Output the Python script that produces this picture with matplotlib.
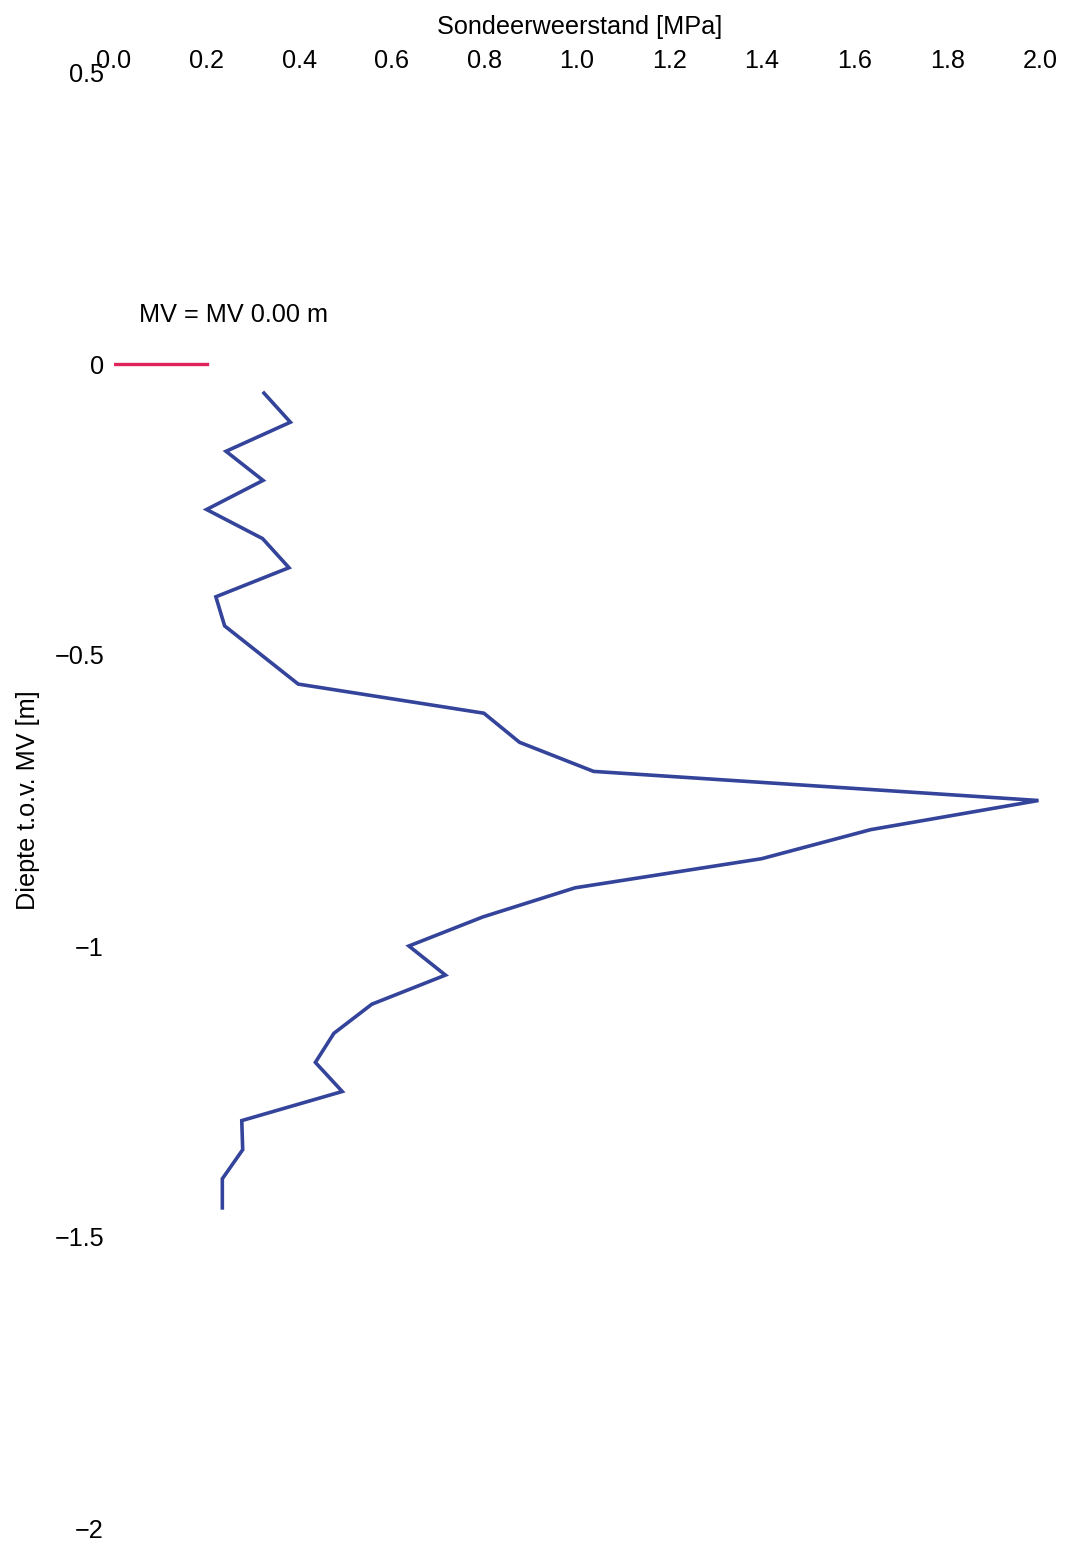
import matplotlib
matplotlib.use("Agg")
import matplotlib.pyplot as plt
from matplotlib.ticker import FuncFormatter

plt.rcParams['font.family'] = ['Liberation Sans', 'DejaVu Sans']

# cone resistance vs depth
depth = [-0.05, -0.10, -0.15, -0.20, -0.25, -0.30, -0.35, -0.40, -0.45,
         -0.55, -0.60, -0.65, -0.70, -0.75, -0.80, -0.85, -0.90, -0.95,
         -1.00, -1.05, -1.10, -1.15, -1.20, -1.25, -1.30, -1.35, -1.40, -1.45]
qc = [0.324, 0.381, 0.242, 0.322, 0.200, 0.321, 0.378, 0.220, 0.239,
      0.398, 0.799, 0.876, 1.036, 1.997, 1.635, 1.399, 0.996, 0.797,
      0.637, 0.716, 0.557, 0.475, 0.435, 0.493, 0.276, 0.278, 0.234, 0.234]

# ground level marker
mv_x = [0.0, 0.2]
mv_y = [0.0, 0.0]
mv_text = "MV = MV 0.00 m"

x_ticks = [0.0, 0.2, 0.4, 0.6, 0.8, 1.0, 1.2, 1.4, 1.6, 1.8, 2.0]
y_ticks = [0.5, 0, -0.5, -1, -1.5, -2]

W, H = 1076, 1544
fig = plt.figure(figsize=(W / 100, H / 100), dpi=100)
fig.patch.set_facecolor("white")

# axes box in pixels
left, right, top, bottom = 114, 1063, 73, 1528
ax = fig.add_axes([left / W, (H - bottom) / H, (right - left) / W, (bottom - top) / H])

ax.plot(qc, depth, color="#34449a", linewidth=2.6, solid_joinstyle="miter")
ax.plot(mv_x, mv_y, color="#e0245a", linewidth=2.4)
ax.text(0.259, 0.084, mv_text, fontsize=18.2, ha="center", va="center", color="black")

ax.set_xlim(0, 2.05)
ax.set_ylim(-2, 0.5)

ax.xaxis.tick_top()
ax.set_xticks(x_ticks)
ax.xaxis.set_major_formatter(FuncFormatter(lambda v, p: "%.1f" % v))
ax.set_yticks(y_ticks)
ax.yaxis.set_major_formatter(FuncFormatter(lambda v, p: ("%g" % v).replace("-", "\u2212")))

ax.tick_params(axis="x", length=0, pad=0, labelsize=18.2, labelcolor="black")
ax.tick_params(axis="y", length=0, pad=7.2, labelsize=18.2, labelcolor="black")

for s in ax.spines.values():
    s.set_visible(False)

fig.text(580 / W, 1 - 27 / H, "Sondeerweerstand [MPa]", fontsize=18.2,
         ha="center", va="center", color="black")
fig.text(28 / W, 1 - 800 / H, "Diepte t.o.v. MV [m]", fontsize=18.2,
         rotation=90, ha="center", va="center", color="black")

fig.savefig("out.png", dpi=100)
